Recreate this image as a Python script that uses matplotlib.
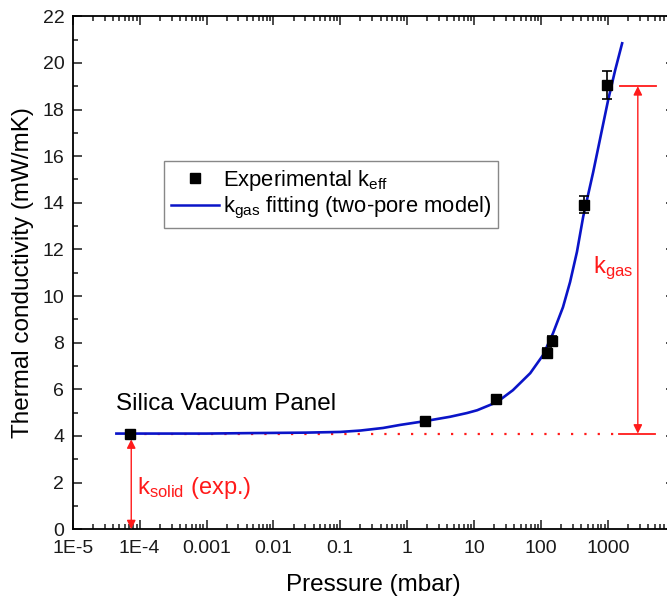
import numpy as np
import matplotlib
matplotlib.use("Agg")
import matplotlib.pyplot as plt
from matplotlib.lines import Line2D
from matplotlib.ticker import FixedLocator, LogLocator, NullFormatter, MultipleLocator

plt.rcParams['font.family'] = ['Liberation Sans', 'DejaVu Sans']
plt.rcParams['mathtext.default'] = 'regular'

# experimental points
p_exp = [7.3e-5, 1.85, 21, 123, 146, 435, 970]
k_exp = [4.1, 4.62, 5.57, 7.55, 8.08, 13.92, 19.05]
k_err = [0.12, 0.15, 0.12, 0.2, 0.2, 0.35, 0.6]

# two-pore model fitting curve
p_fit = [4.5e-5, 1e-4, 1e-3, 0.0045, 0.03, 0.1, 0.2, 0.435, 0.78, 1.72, 4.36,
         7.8, 11.1, 22, 38, 69, 107, 151, 213, 272, 345, 427, 601, 1007, 1282, 1632]
k_fit = [4.1, 4.1, 4.1, 4.12, 4.14, 4.17, 4.23, 4.34, 4.47, 4.62, 4.82,
         4.98, 5.1, 5.45, 5.96, 6.69, 7.46, 8.4, 9.52, 10.6, 11.9, 13.4, 15.3,
         18.4, 19.68, 20.84]

k_solid = 4.1
k_top = 19.0

xtick_vals = [1e-5, 1e-4, 1e-3, 1e-2, 0.1, 1, 10, 100, 1000]
xtick_labels = ['1E-5', '1E-4', '0.001', '0.01', '0.1', '1', '10', '100', '1000']

fig = plt.figure(figsize=(6.67, 6.02), dpi=100)
ax = fig.add_axes([0.109, 0.121, 0.9027, 0.852])

red = '#ff1a1a'
blue = '#0a14c8'

ax.plot(p_fit, k_fit, color=blue, lw=1.9, zorder=3)
ax.errorbar(p_exp, k_exp, yerr=k_err, fmt='s', color='black', ms=7.5,
            capsize=3.8, elinewidth=1.2, capthick=1.2, zorder=4)

# red guide lines
ax.plot([7.5e-5, 1400], [k_solid, k_solid], color=red, lw=1.6,
        linestyle=(0, (1, 5)), zorder=2)
ax.plot([1450, 5000], [k_solid, k_solid], color=red, lw=1.3, zorder=2)
ax.plot([1500, 5200], [k_top, k_top], color=red, lw=1.3, zorder=2)

arrow = dict(arrowstyle='<|-|>', color=red, lw=1.0, mutation_scale=13,
             shrinkA=0, shrinkB=0)
ax.annotate('', xy=(2800, k_top), xytext=(2800, k_solid), arrowprops=arrow)
ax.annotate('', xy=(7.5e-5, 3.85), xytext=(7.5e-5, 0.0), arrowprops=arrow)

ax.text(600, 11.2, r'k$_{gas}$', color=red, fontsize=17, va='center', ha='left')
ax.text(9.0e-5, 1.75, r'k$_{solid}$ (exp.)', color=red, fontsize=17,
        va='center', ha='left')
ax.text(4.5e-5, 5.35, 'Silica Vacuum Panel', color='black', fontsize=17.5,
        va='center', ha='left')

ax.set_xscale('log')
ax.set_xlim(1e-5, 1e4)
ax.set_ylim(0, 22)
ax.xaxis.set_major_locator(FixedLocator(xtick_vals))
ax.set_xticklabels(xtick_labels)
ax.xaxis.set_minor_locator(LogLocator(base=10, subs=np.arange(2, 10), numticks=20))
ax.xaxis.set_minor_formatter(NullFormatter())
ax.yaxis.set_major_locator(MultipleLocator(2))
ax.yaxis.set_minor_locator(MultipleLocator(1))

ax.tick_params(which='both', direction='in', top=True, right=True,
               labelsize=14, colors='#1a1a1a', width=1.1)
ax.tick_params(which='major', length=6.5, pad=6)
ax.tick_params(axis='x', which='major', pad=8)
ax.tick_params(which='minor', length=3.3)
for s in ax.spines.values():
    s.set_linewidth(1.3)

ax.set_xlabel('Pressure (mbar)', fontsize=17.5, labelpad=12)
ax.set_ylabel('Thermal conductivity (mW/mK)', fontsize=17.5, labelpad=6)

handles = [Line2D([], [], marker='s', color='black', ms=7.5, linestyle='none'),
           Line2D([], [], color=blue, lw=1.8)]
labels = [r'Experimental k$_{eff}$', r'k$_{gas}$ fitting (two-pore model)']
leg = ax.legend(handles, labels, loc='upper left', bbox_to_anchor=(0.152, 0.717),
                fontsize=15.8, frameon=True, fancybox=False, edgecolor='#888888',
                framealpha=1, handlelength=2.2, handletextpad=0.2,
                borderpad=0.3, labelspacing=0.1, borderaxespad=0)
leg.get_frame().set_linewidth(1.0)

fig.savefig('out.png', dpi=100)
